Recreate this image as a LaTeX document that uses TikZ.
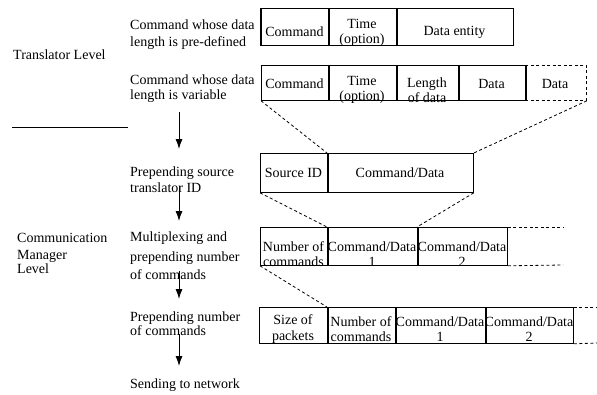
\documentclass[tikz,border=0pt]{standalone}
\usepackage{fontspec}
\setmainfont{Liberation Serif}
\usetikzlibrary{arrows.meta}
\begin{document}
\begin{tikzpicture}[x=1pt,y=-1pt,
  every node/.style={font=\fontsize{14}{15.5}\selectfont},
  lab/.style={anchor=base west,inner sep=0pt},
  cell/.style={draw,line width=0.8pt,anchor=north west,inner sep=0pt,minimum height=#1},
  cellt/.style={align=center,inner sep=0pt},
  divider/.style={line width=1.8pt},
  dashcon/.style={line width=0.8pt,dash pattern=on 3pt off 2.5pt},
  flow/.style={line width=0.9pt,-{Latex[length=10pt,width=7pt]}}]
\useasboundingbox (0,0) rectangle (597,394);

% left level labels
\node[lab] (tl) at (13,59.5) {Translator Level};
\coordinate (sepL) at (12,127);
\coordinate (sepR) at (128,127);
\draw[line width=0.8pt] (sepL) -- (sepR);
\node[lab] (cm1) at (17,242.5) {Communication};
\node[lab] (cm2) at (17,259.5) {Manager};
\node[lab] (cm3) at (17,273.5) {Level};

% process labels
\node[lab] (p1a) at (130,29.5) {Command whose data};
\node[lab] (p1b) at (130,46.5) {length is pre-defined};
\node[lab] (p2a) at (130,84.5) {Command whose data};
\node[lab] (p2b) at (130,99.5) {length is variable};
\node[lab] (p3a) at (130,176.5) {Prepending source};
\node[lab] (p3b) at (130,192.5) {translator ID};
\node[lab] (p4a) at (130,241.5) {Multiplexing and};
\node[lab] (p4b) at (130,261.5) {prepending number};
\node[lab] (p4c) at (130,279.5) {of commands};
\node[lab] (p5a) at (130,321.5) {Prepending number};
\node[lab] (p5b) at (130,335.5) {of commands};
\node[lab] (p6) at (130,388.5) {Sending to network};

% flow arrows
\coordinate (a1s) at (179,112); \coordinate (a1e) at (179,149);
\coordinate (a2s) at (179,186); \coordinate (a2e) at (179,221);
\coordinate (a3s) at (179,271); \coordinate (a3e) at (179,299);
\coordinate (a4s) at (179,334); \coordinate (a4e) at (179,366);
\draw[flow] (a1s) -- (a1e);
\draw[flow] (a2s) -- (a2e);
\draw[flow] (a3s) -- (a3e);
\draw[flow] (a4s) -- (a4e);

% row 1
\node[cell=37pt,minimum width=67pt] (r1a) at (261,8) {};
\node[cell=37pt,minimum width=68pt] (r1b) at (328,8) {};
\node[cell=37pt,minimum width=117pt] (r1c) at (396,8) {};
\node[cellt] (t1a) at (294.5,32) {Command};
\node[cellt] (t1b) at (362,33) {Time\\(option)};
\node[cellt] (t1c) at (454.5,32) {Data entity};
\draw[divider] (r1a.north west) -- (r1a.south west);
\draw[divider] (r1a.north east) -- (r1a.south east);
\draw[divider] (r1b.north east) -- (r1b.south east);

% row 2
\node[cell=35pt,minimum width=67pt] (r2a) at (261,65) {};
\node[cell=35pt,minimum width=68pt] (r2b) at (328,65) {};
\node[cell=35pt,minimum width=62pt] (r2c) at (396,65) {};
\node[cell=35pt,minimum width=67pt] (r2d) at (458,65) {};
\node[cell=35pt,minimum width=61pt,dashcon] (r2e) at (525,65) {};
\node[cellt] (t2a) at (294.5,84) {Command};
\node[cellt] (t2b) at (362,90) {Time\\(option)};
\node[cellt] (t2c) at (427,90) {Length\\of data};
\node[cellt] (t2d) at (491.5,84) {Data};
\node[cellt] (t2e) at (555,84) {Data};
\draw[divider] (r2a.north east) -- (r2a.south east);
\draw[divider] (r2b.north east) -- (r2b.south east);
\draw[divider] (r2c.north east) -- (r2c.south east);
\draw[divider] (r2d.north east) -- (r2d.south east);

% row 3
\node[cell=39pt,minimum width=67pt] (r3a) at (260,153) {};
\node[cell=39pt,minimum width=146pt] (r3b) at (327,153) {};
\node[cellt] (t3a) at (293.5,173) {Source ID};
\node[cellt] (t3b) at (400,173) {Command/Data};
\draw[divider] (r3a.north east) -- (r3a.south east);

% row 4
\node[cell=38pt,minimum width=67pt] (r4a) at (260,227) {};
\node[cell=38pt,minimum width=90pt] (r4b) at (327,227) {};
\node[cell=38pt,minimum width=90pt] (r4c) at (417,227) {};
\node[cellt] (t4a) at (293.5,254) {Number of\\commands};
\node[cellt] (t4b) at (372,254) {Command/Data\\1};
\node[cellt] (t4c) at (462,254) {Command/Data\\2};
\draw[divider] (r4a.north east) -- (r4a.south east);
\draw[divider] (r4b.north east) -- (r4b.south east);
\coordinate (e4t) at (563,227);
\coordinate (e4b) at (563,265);
\draw[dashcon] (r4c.north east) -- (e4t);
\draw[dashcon] (r4c.south east) -- (e4b);

% row 5
\node[cell=36pt,minimum width=68pt] (r5a) at (259,307) {};
\node[cell=36pt,minimum width=68pt] (r5b) at (327,307) {};
\node[cell=36pt,minimum width=90pt] (r5c) at (395,307) {};
\node[cell=36pt,minimum width=88pt] (r5d) at (485,307) {};
\node[cellt] (t5a) at (293,329) {Size of\\packets};
\node[cellt] (t5b) at (361,329) {Number of\\commands};
\node[cellt] (t5c) at (440,329) {Command/Data\\1};
\node[cellt] (t5d) at (529,329) {Command/Data\\2};
\draw[divider] (r5a.north east) -- (r5a.south east);
\draw[divider] (r5b.north east) -- (r5b.south east);
\draw[divider] (r5c.north east) -- (r5c.south east);
\coordinate (e5t) at (597,307);
\coordinate (e5b) at (597,343);
\draw[dashcon] (r5d.north east) -- (e5t);
\draw[dashcon] (r5d.south east) -- (e5b);

% expansion connectors
\draw[dashcon] (r2a.south west) -- (r3b.north west);
\draw[dashcon] (r2e.south east) -- (r3b.north east);
\draw[dashcon] (r3a.south west) -- (r4b.north west);
\draw[dashcon] (r3b.south east) -- (r4c.north west);
\draw[dashcon] (r4a.south west) -- (r5b.north west);
\end{tikzpicture}
\end{document}
